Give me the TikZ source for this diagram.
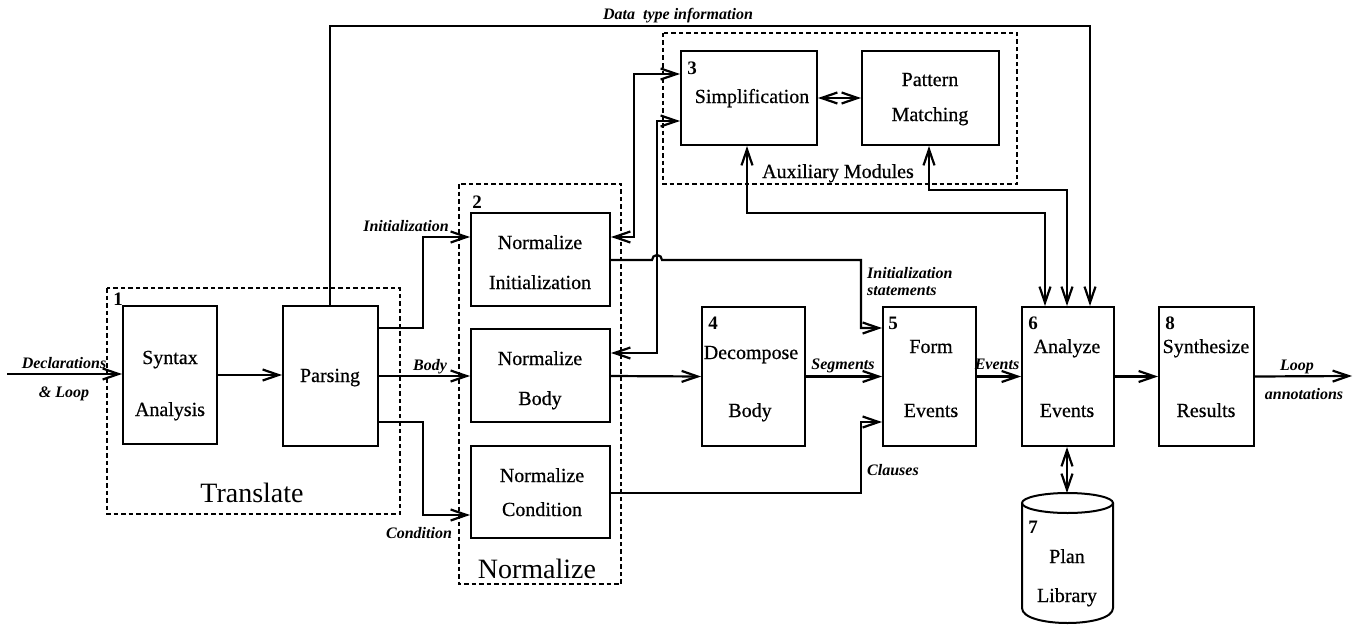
\documentclass[tikz,border=0pt]{standalone}
\usepackage{fontspec}
\setmainfont{Liberation Serif}
\newfontfamily\heavyserif[FakeBold=0.6]{Liberation Serif}
\usetikzlibrary{arrows.meta}
\begin{document}
\begin{tikzpicture}[x=1pt,y=-1pt,
  box/.style={draw, line width=2pt, inner sep=0pt},
  grp/.style={draw, line width=1.4pt, dash pattern=on 4.5pt off 3pt},
  conn/.style={line width=2.2pt},
  tip/.tip={Straight Barb[length=16pt,width=11pt]},
  arr/.style={conn, -tip},
  darr/.style={conn, tip-tip},
  txt/.style={anchor=base, inner sep=0pt, font=\heavyserif\fontsize{20}{24}\selectfont},
  num/.style={inner sep=0pt, font=\fontsize{19}{20}\selectfont\bfseries},
  lab/.style={anchor=base, inner sep=0pt, font=\fontsize{16}{18}\selectfont\bfseries\itshape},
  big/.style={anchor=base, inner sep=0pt, font=\fontsize{28}{32}\selectfont}]
\useasboundingbox (0,0) rectangle (1364,626);

% group boxes
\draw[grp] (107,288) rectangle (400,514);
\draw[grp] (459,184) rectangle (621,584);
\draw[grp] (663,33) rectangle (1017,184);
\node[big] (tTranslate) at (252,502) {Translate};
\node[big] (tNormalize) at (537,578) {Normalize};
\node[txt] (tAux) at (838,178) {Auxiliary Modules};

% boxes
\node[box, minimum width=94pt, minimum height=138pt] (syn) at (170,375) {};
\node[box, minimum width=95pt, minimum height=140pt] (pars) at (330.5,376) {};
\node[box, minimum width=139pt, minimum height=93pt] (ninit) at (540.5,259.5) {};
\node[box, minimum width=139pt, minimum height=93pt] (nbody) at (540.5,375.5) {};
\node[box, minimum width=139pt, minimum height=92pt] (ncond) at (540.5,492) {};
\node[box, minimum width=103pt, minimum height=139pt] (dec) at (753.5,376.5) {};
\node[box, minimum width=93pt, minimum height=139pt] (form) at (929.5,376.5) {};
\node[box, minimum width=92pt, minimum height=139pt] (anal) at (1068,376.5) {};
\node[box, minimum width=95pt, minimum height=139pt] (synth) at (1206.5,376.5) {};
\node[box, minimum width=136pt, minimum height=94pt] (simp) at (749,98) {};
\node[box, minimum width=137pt, minimum height=94pt] (pat) at (930.5,98) {};

% plan library cylinder
\draw[line width=2pt] (1022,503) -- (1022,608) .. controls (1022,628) and (1113,628) .. (1113,608) -- (1113,503);
\draw[line width=2pt] (1067.5,503) ellipse [x radius=45.5, y radius=10];
\coordinate (plantop) at (1067,493);

% box texts
\node[txt] (t1a) at (170,364) {Syntax};
\node[txt] (t1b) at (170,416) {Analysis};
\node[txt] (t1c) at (330,382) {Parsing};
\node[txt] (t2a) at (540,249) {Normalize};
\node[txt] (t2b) at (540,289) {Initialization};
\node[txt] (t2c) at (540,365) {Normalize};
\node[txt] (t2d) at (540,405) {Body};
\node[txt] (t2e) at (542,482) {Normalize};
\node[txt] (t2f) at (542,516) {Condition};
\node[txt] (t3a) at (752,103) {Simplification};
\node[txt] (t3b) at (930,86) {Pattern};
\node[txt] (t3c) at (930,121) {Matching};
\node[txt] (t4a) at (751,359) {Decompose};
\node[txt] (t4b) at (750,417) {Body};
\node[txt] (t5a) at (931,353) {Form};
\node[txt] (t5b) at (931,417) {Events};
\node[txt] (t6a) at (1067,353) {Analyze};
\node[txt] (t6b) at (1067,417) {Events};
\node[txt] (t8a) at (1206,353) {Synthesize};
\node[txt] (t8b) at (1206,417) {Results};
\node[txt] (t7a) at (1067,563) {Plan};
\node[txt] (t7b) at (1067,602) {Library};

% numbers
\node[num] (n1) at (118,299) {1};
\node[num] (n2) at (477,202) {2};
\node[num] (n3) at (692,68) {3};
\node[num] (n4) at (713,323) {4};
\node[num] (n5) at (893,323) {5};
\node[num] (n6) at (1033,323) {6};
\node[num] (n7) at (1033,527) {7};
\node[num] (n8) at (1170,323) {8};

% connectors
\coordinate (in) at (7,374);
\coordinate (out) at (1352,376);
\draw[arr] (in) -- (syn.west |- in);
\draw[arr] (syn.east) -- (pars.west |- syn.east);
\draw[arr] (pars.east |- 0,328) -- (423,328) |- (ninit.west |- 0,237);
\draw[arr] (pars.east) -- (nbody.west |- pars.east);
\draw[arr] (pars.east |- 0,422) -- (423,422) |- (ncond.west |- 0,515);
\draw[arr] (pars.north -| 330,0) |- (1090,26) -- (1090,0 |- anal.north);
\draw[darr] (ninit.east |- 0,237) -- (634,237) |- (simp.west |- 0,74);
\draw[darr] (nbody.east |- 0,353) -- (657,353) |- (simp.west |- 0,121);
\draw[darr] (simp.east) -- (pat.west);
\draw[darr] (747,0 |- simp.south) |- (1045,213) -- (1045,0 |- anal.north);
\draw[darr] (929,0 |- pat.south) |- (1067,190) -- (1067,0 |- anal.north);
\draw[arr] (ninit.east |- 0,260) -- (652,260) arc[start angle=180, end angle=360, radius=5] -- (861,260) |- (form.west |- 0,328);
\draw[arr] (nbody.east |- 0,376) -- (dec.west);
\draw[arr] (dec.east) -- (form.west);
\draw[arr] (ncond.east |- 0,493) -- (861,493) |- (form.west |- 0,422);
\draw[arr] (form.east) -- (anal.west);
\draw[arr] (anal.east) -- (synth.west);
\draw[arr] (synth.east) -- (out);
\draw[darr] (1067,0 |- anal.south) -- (plantop);

% connector labels
\node[lab] (lDecl) at (64,368) {Declarations};
\node[lab] (lLoop) at (64,397) {\& Loop};
\node[lab] (lInit) at (406,231) {Initialization};
\node[lab] (lBody) at (430,370) {Body};
\node[lab] (lCond) at (419,538) {Condition};
\node[lab] (lData) at (678,20) {Data\ \ type information};
\node[lab, anchor=base west] (lIS1) at (867,278) {Initialization};
\node[lab, anchor=base west] (lIS2) at (867,295) {statements};
\node[lab] (lSeg) at (843,369) {Segments};
\node[lab, anchor=base west] (lClau) at (867,475) {Clauses};
\node[lab] (lEv) at (997,369) {Events};
\node[lab] (lLp) at (1297,370) {Loop};
\node[lab] (lAnn) at (1304,399) {annotations};
\end{tikzpicture}
\end{document}
